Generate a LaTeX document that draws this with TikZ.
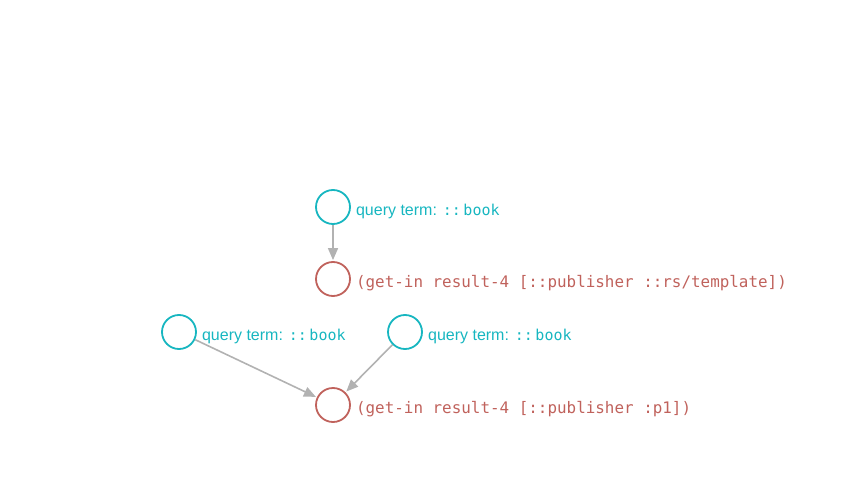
\documentclass[tikz,border=0pt]{standalone}
\usepackage{fontspec}
\setsansfont{Liberation Sans}
\newfontfamily\codefont{DejaVu Sans Mono}
\usetikzlibrary{arrows.meta, positioning}

\definecolor{qcol}{HTML}{17B6C0}
\definecolor{rcol}{HTML}{C0625C}
\definecolor{lcol}{HTML}{B2B2B2}

\begin{document}
\begin{tikzpicture}[
    x=1pt, y=-1pt,
    qnode/.style={circle, draw=qcol, line width=1.8pt, minimum size=34pt, inner sep=0pt},
    rnode/.style={circle, draw=rcol, line width=1.8pt, minimum size=34pt, inner sep=0pt},
    qlabel/.style={text=qcol, font=\sffamily\fontsize{16}{18}\selectfont, inner sep=0pt, anchor=west, yshift=-4.5pt},
    rlabel/.style={text=rcol, font=\codefont\fontsize{15.9}{18}\selectfont, inner sep=0pt, anchor=west, yshift=-4pt},
    link/.style={draw=lcol, line width=1.6pt, -{Triangle[length=12pt, width=10pt]}, shorten >=1pt}
]
\useasboundingbox (0,0) rectangle (865,495);

% first query
\node[qnode] (q1) at (333,207) {};
\node[qlabel, right=5pt of q1.east] (q1t) {query term: {\codefont\fontsize{15}{18}\selectfont::\,book}};
\node[rnode] (r1) at (333,279) {};
\node[rlabel, right=5pt of r1.east] (r1t) {(get-in result-4 [::publisher ::rs/template])};
\draw[link] (q1) -- (r1);

% second query
\node[qnode] (q2) at (179,332) {};
\node[qlabel, right=5pt of q2.east] (q2t) {query term: {\codefont\fontsize{15}{18}\selectfont::\,book}};
\node[qnode] (q3) at (405,332) {};
\node[qlabel, right=5pt of q3.east] (q3t) {query term: {\codefont\fontsize{15}{18}\selectfont::\,book}};
\node[rnode] (r2) at (333,405) {};
\node[rlabel, right=5pt of r2.east] (r2t) {(get-in result-4 [::publisher :p1])};
\draw[link] (q2) -- (r2);
\draw[link] (q3) -- (r2);
\end{tikzpicture}
\end{document}
